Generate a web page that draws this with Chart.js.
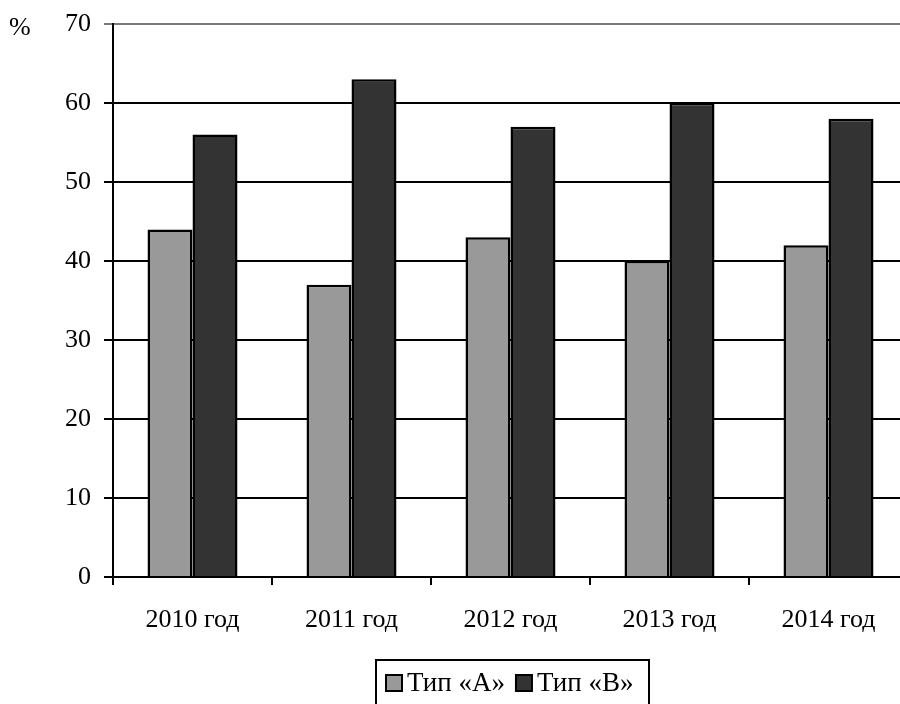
<!DOCTYPE html>
<html>
<head>
<meta charset="utf-8">
<style>
  html, body { margin: 0; padding: 0; background: #fff; overflow: hidden; }
  #wrap { width: 910px; height: 704px; }
</style>
<script src="https://cdn.jsdelivr.net/npm/chart.js@4.4.1/dist/chart.umd.min.js"></script>
</head>
<body>
<div id="wrap"><canvas id="c" width="910" height="704"></canvas></div>
<script>
const categories = ['2010 год', '2011 год', '2012 год', '2013 год', '2014 год'];
const typeA = [44, 37, 43, 40, 42];
const typeB = [56, 63, 57, 60, 58];
const seriesNames = ['Тип «А»', 'Тип «В»'];
const yTicks = [0, 10, 20, 30, 40, 50, 60, 70];

const FONT = '"Liberation Serif", "Times New Roman", serif';
const FS = 26;

// Boxed legend and the "%" unit label
const extras = {
  id: 'extras',
  afterDraw(chart) {
    const ctx = chart.ctx;
    ctx.save();
    ctx.font = FS + 'px ' + FONT;
    ctx.fillStyle = '#000';
    ctx.textBaseline = 'middle';
    ctx.textAlign = 'left';
    ctx.fillText('%', 9, 28);

    // legend frame
    const lx = 376, ly = 660, lw = 273, lh = 50;
    ctx.strokeStyle = '#000';
    ctx.lineWidth = 2;
    ctx.strokeRect(lx, ly, lw, lh);

    let x = 386;
    const cy = 683;
    ctx.font = '27px ' + FONT;
    chart.data.datasets.forEach((ds) => {
      ctx.fillStyle = ds.backgroundColor;
      ctx.fillRect(x, cy - 8, 16, 16);
      ctx.lineWidth = 2;
      ctx.strokeStyle = '#000';
      ctx.strokeRect(x, cy - 8, 16, 16);
      ctx.fillStyle = '#000';
      ctx.fillText(ds.label, x + 21, cy + 1);
      x += 21 + ctx.measureText(ds.label).width + 11;
    });
    ctx.restore();
  }
};

new Chart(document.getElementById('c'), {
  type: 'bar',
  data: {
    labels: categories,
    datasets: [
      { label: seriesNames[0], data: typeA, backgroundColor: '#999999', borderColor: '#000', borderWidth: 2.5 },
      { label: seriesNames[1], data: typeB, backgroundColor: '#333333', borderColor: '#000', borderWidth: 2.5 }
    ]
  },
  options: {
    responsive: false,
    animation: false,
    layout: { padding: { top: 24, left: 0, right: 2, bottom: 0 } },
    datasets: { bar: { categoryPercentage: 0.566, barPercentage: 1.0 } },
    plugins: { legend: { display: false }, tooltip: { enabled: false } },
    scales: {
      x: {
        grid: {
          offset: true,
          drawOnChartArea: false,
          drawTicks: true,
          tickLength: 8,
          color: '#000',
          lineWidth: 2
        },
        border: { display: true, color: '#000', width: 2 },
        ticks: { color: '#000', font: { family: FONT, size: FS }, padding: 20, maxRotation: 0 },
        afterFit(scale) { scale.height = 704 - 577; scale.paddingLeft = 0; scale.paddingRight = 0; }
      },
      y: {
        min: 0,
        max: 70,
        afterBuildTicks(scale) { scale.ticks = yTicks.map(v => ({ value: v })); },
        grid: {
          color: (c) => (c.tick && c.tick.value === 70 ? '#7a7a7a' : '#000'),
          lineWidth: 2,
          drawTicks: true,
          tickLength: 9
        },
        border: { display: true, color: '#000', width: 2 },
        ticks: { color: '#000', font: { family: FONT, size: FS }, padding: 13 },
        afterFit(scale) { scale.width = 113; scale.paddingTop = 0; scale.paddingBottom = 0; }
      }
    }
  },
  plugins: [extras]
});
</script>
</body>
</html>
